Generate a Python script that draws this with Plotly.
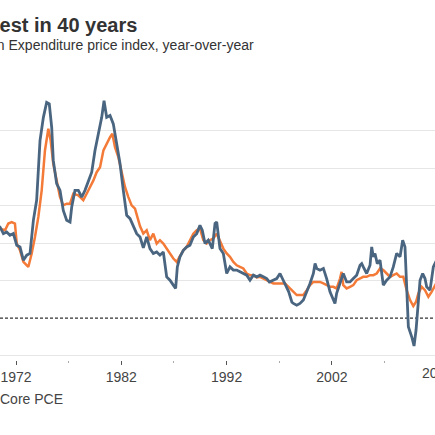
"""
pce_chart.py
---------------------------------
PCE vs Core PCE price index, year-over-year (%).
The view is a crop of a wider chart, so the title, the y labels
and the last tick label run off the edges of the page.
"""

import plotly.graph_objects as go

# ----------------------------
# Data
# ----------------------------
pce_years = [
    1970.30, 1970.48, 1970.80, 1971.11, 1971.43, 1971.75,
    1972.07, 1972.38, 1972.70, 1973.02, 1973.33, 1973.65, 1973.96,
    1974.28, 1974.60, 1974.91, 1975.16, 1975.39, 1975.54, 1975.86,
    1976.18, 1976.49, 1976.81, 1977.13, 1977.29, 1977.60, 1977.92,
    1978.24, 1978.55, 1978.87, 1979.19, 1979.50, 1979.82,
    1980.14, 1980.36, 1980.61, 1980.93, 1981.24, 1981.56, 1981.88,
    1982.19, 1982.51, 1982.83, 1983.14, 1983.46, 1983.78,
    1984.09, 1984.41, 1984.72, 1985.04, 1985.36, 1985.67, 1985.99,
    1986.31, 1986.62, 1986.94, 1987.16, 1987.32, 1987.57, 1987.89,
    1988.21, 1988.52, 1988.84, 1989.16, 1989.47, 1989.69, 1989.95,
    1990.26, 1990.64, 1990.90, 1991.06, 1991.37, 1991.69,
    1992.01, 1992.32, 1992.64, 1992.96, 1993.27, 1993.59, 1993.91,
    1994.22, 1994.54, 1994.86, 1995.17, 1995.49, 1995.81,
    1996.06, 1996.44, 1996.76, 1997.07, 1997.39, 1997.55, 1997.71, 1997.90,
    1998.20, 1998.34, 1998.66, 1998.97, 1999.29, 1999.61, 1999.92,
    2000.24, 2000.40, 2000.56, 2000.87, 2001.19, 2001.50, 2001.82,
    2002.13, 2002.29, 2002.45, 2002.77, 2003.08, 2003.40, 2003.72,
    2004.03, 2004.35, 2004.67, 2004.83, 2004.98, 2005.30, 2005.62, 2005.78, 2005.93,
    2006.09, 2006.31, 2006.57, 2006.88, 2007.20, 2007.52, 2007.83,
    2008.15, 2008.47, 2008.72, 2008.94, 2009.10, 2009.26, 2009.58, 2009.80, 2009.99,
    2010.15, 2010.37, 2010.62, 2010.84, 2011.00, 2011.32, 2011.63, 2011.79, 2011.95,
]
pce_values = [
    4.90, 4.86, 4.51, 4.60, 4.42, 4.51,
    3.89, 3.80, 3.09, 3.36, 3.45, 5.22, 6.29,
    9.48, 10.72, 11.52, 11.44, 10.19, 8.42, 7.18,
    6.82, 5.75, 5.22, 5.13, 5.93, 6.82, 6.82,
    6.46, 6.82, 7.35, 7.79, 8.95, 9.84,
    10.72, 11.61, 10.72, 10.82, 10.37, 9.31, 8.24,
    6.82, 5.49, 5.31, 4.95, 4.51, 4.33,
    3.75, 4.33, 3.71, 3.45, 3.53, 3.36, 3.53,
    2.20, 2.02, 1.76, 1.58, 2.73, 3.27, 3.62,
    3.80, 3.89, 4.33, 4.51, 4.95, 4.69, 3.98,
    4.16, 3.71, 5.05, 5.13, 3.71, 3.45,
    2.38, 2.73, 2.56, 2.56, 2.47, 2.38, 2.29,
    2.02, 2.29, 2.20, 2.29, 2.20, 2.11,
    1.93, 2.02, 2.11, 2.38, 2.02, 1.85, 1.65, 1.40,
    0.85, 0.78, 0.69, 0.78, 0.96, 1.40, 1.85,
    2.38, 2.91, 2.65, 2.56, 2.65, 2.11, 1.40,
    0.96, 0.78, 1.32, 1.85, 2.38, 1.93, 1.93,
    2.11, 2.29, 2.82, 2.91, 2.73, 2.38, 2.82, 3.80, 3.27,
    3.45, 2.91, 3.09, 1.76, 2.02, 2.20, 2.73,
    3.45, 3.27, 4.16, 3.80, 1.67, -0.46, -1.00, -1.49, -0.64,
    0.60, 2.02, 2.38, 2.11, 1.67, 1.49, 2.73, 2.91, 3.10,
]

core_years = [
    1970.30, 1970.48, 1970.96, 1971.27, 1971.59, 1971.90,
    1972.07, 1972.38, 1972.70, 1973.17, 1973.49, 1973.80,
    1974.12, 1974.44, 1974.75, 1975.07, 1975.29, 1975.54, 1975.86,
    1976.18, 1976.49, 1976.81, 1977.13, 1977.44, 1977.92,
    1978.39, 1978.71, 1979.03, 1979.35, 1979.66, 1979.98,
    1980.30, 1980.61, 1980.93, 1981.15, 1981.40, 1981.72,
    1982.03, 1982.35, 1982.67, 1982.98, 1983.30, 1983.62, 1983.78,
    1984.09, 1984.41, 1984.72, 1985.04, 1985.36, 1985.67, 1985.99,
    1986.31, 1986.62, 1986.94, 1987.26, 1987.57, 1987.89,
    1988.21, 1988.52, 1988.84, 1989.16, 1989.47, 1989.79,
    1990.11, 1990.42, 1990.74, 1991.06, 1991.37, 1991.69,
    1992.01, 1992.32, 1992.64, 1992.96, 1993.27, 1993.59, 1993.91,
    1994.22, 1994.54, 1994.86, 1995.17, 1995.81,
    1996.44, 1997.07, 1997.55,
    1998.02, 1998.34, 1998.66, 1998.97, 1999.29, 1999.61, 1999.92,
    2000.24, 2000.87, 2001.19, 2001.50, 2001.82,
    2002.13, 2002.45, 2002.77, 2002.92, 2003.08, 2003.40, 2003.72,
    2004.03, 2004.35, 2004.67, 2004.98, 2005.30, 2005.62, 2005.93,
    2006.25, 2006.57, 2006.88, 2007.20, 2007.52, 2007.83,
    2008.15, 2008.47, 2008.78, 2009.10, 2009.42, 2009.73, 2009.99,
    2010.21, 2010.53, 2010.84, 2011.16, 2011.47, 2011.79, 2011.95,
]
core_values = [
    4.80, 4.78, 4.69, 5.05, 5.13, 5.05,
    3.98, 3.62, 3.00, 2.73, 3.45, 4.33,
    5.40, 6.82, 8.95, 10.11, 9.48, 8.24, 7.35,
    6.46, 6.02, 6.11, 6.11, 6.64, 6.55,
    6.29, 6.64, 7.00, 7.35, 7.79, 8.06,
    8.95, 9.31, 9.66, 9.84, 9.13, 8.59,
    7.71, 7.00, 6.46, 6.02, 5.84, 5.22, 4.90,
    4.51, 4.69, 4.16, 4.51, 3.98, 4.16, 3.98,
    3.71, 3.45, 3.18, 3.00, 3.27, 3.62,
    3.80, 4.16, 4.51, 4.69, 4.78, 4.16,
    3.98, 4.16, 4.25, 4.51, 4.16, 3.71,
    3.45, 3.27, 3.00, 2.82, 2.73, 2.65, 2.38,
    2.29, 2.29, 2.17, 2.20, 2.02,
    1.85, 1.85, 1.85,
    1.58, 1.40, 1.23, 1.23, 1.23, 1.49, 1.76,
    1.93, 1.93, 1.85, 1.76, 1.67,
    1.67, 1.58, 2.11, 2.47, 1.76, 1.58, 1.67,
    1.76, 2.02, 2.11, 2.20, 2.20, 2.29, 2.29,
    2.38, 2.65, 2.56, 2.38, 2.20, 2.29,
    2.38, 2.20, 2.20, 1.49, 0.96, 0.64, 0.87,
    1.32, 1.67, 1.49, 1.14, 1.40, 1.76, 1.90,
]

x_tick_years = [1972, 1982, 1992, 2002]
x_tick_labels = ["1972", "1982", "1992", "2002"]
y_grid_values = [-2, 2, 4, 6, 8, 10, 12]

# ----------------------------
# Styling
# ----------------------------
PCE_COLOR = "#4a6580"
CORE_COLOR = "#f47a38"
TEXT_COLOR = "#333333"
AXIS_TEXT = "#444444"
FONT = "Liberation Sans, Arial, sans-serif"

x_range = [1970.48, 2011.79]
y_range = [-2.24, 12.02]


def paper_x(year):
    """Map a year to paper coordinates of the x axis."""
    return (year - x_range[0]) / (x_range[1] - x_range[0])


fig = go.Figure()
fig.add_trace(go.Scatter(x=core_years, y=core_values, mode="lines", name="Core PCE",
                         line=dict(color=CORE_COLOR, width=2.5)))
fig.add_trace(go.Scatter(x=pce_years, y=pce_values, mode="lines", name="PCE",
                         line=dict(color=PCE_COLOR, width=2.8)))

# dashed zero line
fig.add_shape(type="line", xref="paper", x0=0, x1=1, yref="y", y0=0, y1=0,
              line=dict(color="#333333", width=1.2, dash="3px,2px"), layer="below")

fig.update_xaxes(
    range=x_range,
    tickvals=x_tick_years,
    ticktext=x_tick_labels,
    showgrid=False,
    zeroline=False,
    showline=False,
    ticks="outside",
    ticklen=4,
    tickwidth=1,
    tickcolor="#555555",
    tickfont=dict(family=FONT, size=14, color=AXIS_TEXT),
    minor=dict(tickvals=[1977, 1987, 1997, 2007], ticks="outside", ticklen=1.5,
               tickwidth=1, tickcolor="#aaaaaa"),
)
fig.update_yaxes(
    range=y_range,
    tickvals=y_grid_values,
    showticklabels=False,
    showgrid=True,
    gridcolor="#e6e6e6",
    gridwidth=1,
    zeroline=False,
    showline=False,
)

annotations = [
    # title and subtitle, cut off on the left like the source
    dict(text="<b>Inflation highest in 40 years</b>", x=139 / 435, y=1.2547,
         xanchor="right", yanchor="middle", font=dict(size=20, color=TEXT_COLOR)),
    dict(text="Personal Consumption Expenditure price index, year-over-year",
         x=256 / 435, y=1.1798, xanchor="right", yanchor="middle",
         font=dict(size=14, color=TEXT_COLOR)),
    # last tick label, only half on the page
    dict(text="2012", x=paper_x(2012), y=-0.0476, xanchor="center", yanchor="middle",
         font=dict(size=14, color=AXIS_TEXT)),
    # legend label
    dict(text="Core PCE", x=-0.004, y=-0.146, xanchor="left", yanchor="middle",
         font=dict(size=14, color=AXIS_TEXT)),
]
for a in annotations:
    a.update(xref="paper", yref="paper", showarrow=False)

fig.update_layout(
    width=435,
    height=435,
    margin=dict(l=0, r=0, t=93, b=75),
    paper_bgcolor="white",
    plot_bgcolor="white",
    font=dict(family=FONT),
    showlegend=False,
    annotations=annotations,
)

# the page sits flush with the window, like the cropped source
fig.write_html("out.html", config={"displayModeBar": False},
               post_script="document.body.style.margin = '0';")
